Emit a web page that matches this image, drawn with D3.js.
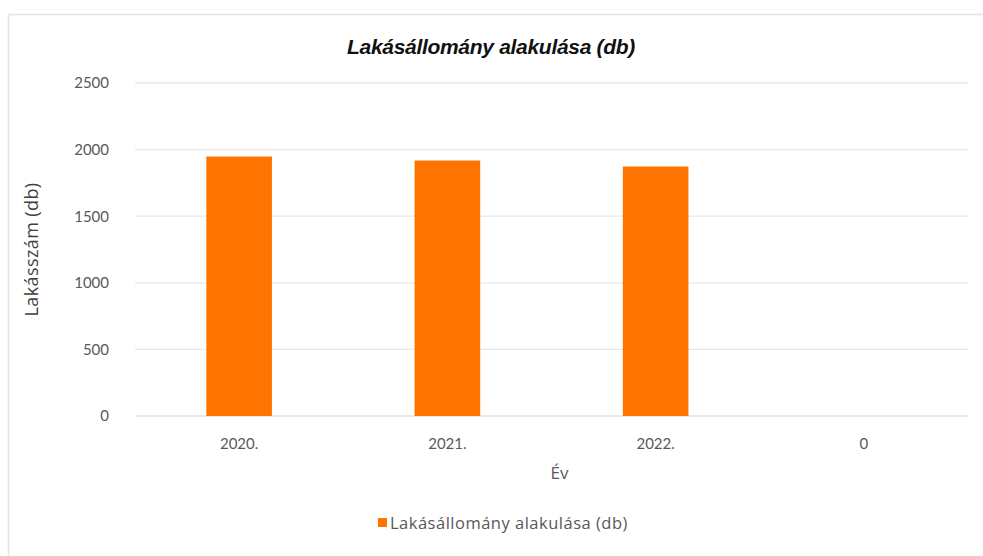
<!DOCTYPE html>
<html>
<head>
<meta charset="utf-8">
<script src="https://cdn.jsdelivr.net/npm/d3@7"></script>
<style>
  html, body { margin: 0; padding: 0; background: #ffffff; }
  svg { display: block; }
</style>
</head>
<body>
<svg id="chart" width="983" height="556"></svg>
<script>
const categories = ["2020.", "2021.", "2022.", "0"];
const values = [1948, 1918, 1873, 0];
const yTicks = [0, 500, 1000, 1500, 2000, 2500];
const title = "Lakásállomány alakulása (db)";
const seriesName = "Lakásállomány alakulása (db)";
const xTitle = "Év";
const yTitle = "Lakásszám (db)";

const W = 983, H = 556;
const margin = { top: 83, right: 15, bottom: 140, left: 135 };
const plotW = W - margin.left - margin.right;
const plotH = H - margin.top - margin.bottom;
const font = "Lato, 'Open Sans', sans-serif";
const font2 = "'Open Sans', Lato, sans-serif";
const gray = "#595959";
const barColor = "#FF7300";

const svg = d3.select("#chart");

// outer chart frame
svg.append("rect")
  .attr("x", 8.5).attr("y", 14.5)
  .attr("width", W + 10).attr("height", H + 10)
  .attr("fill", "#fff").attr("stroke", "#e3e3e3").attr("stroke-width", 1.5);

const x = d3.scaleBand()
  .domain(categories)
  .range([0, plotW])
  .paddingInner(0.685)
  .paddingOuter(0.3425);

const y = d3.scaleLinear().domain([0, 2500]).range([plotH, 0]);

const g = svg.append("g").attr("transform", `translate(${margin.left},${margin.top})`);

// gridlines
g.append("g")
  .selectAll("line")
  .data(yTicks)
  .join("line")
  .attr("x1", 0).attr("x2", plotW)
  .attr("y1", d => y(d)).attr("y2", d => y(d))
  .attr("stroke", d => d === 0 ? "#e6e3d6" : "#e8e8e8")
  .attr("stroke-width", 1.3);

// y axis labels
const yAxis = g.append("g").call(
  d3.axisLeft(y).tickValues(yTicks).tickFormat(d3.format("d")).tickSize(0).tickPadding(26)
);
yAxis.select(".domain").remove();
yAxis.selectAll("text")
  .attr("fill", gray).attr("font-family", font).attr("font-size", 15);

// bars
g.append("g")
  .selectAll("rect")
  .data(categories.map((c, i) => ({ c, v: values[i] })))
  .join("rect")
  .attr("x", d => x(d.c))
  .attr("y", d => y(d.v))
  .attr("width", x.bandwidth())
  .attr("height", d => plotH - y(d.v))
  .attr("fill", barColor);

// x axis labels
const xAxis = g.append("g")
  .attr("transform", `translate(0,${plotH})`)
  .call(d3.axisBottom(x).tickSize(0).tickPadding(22));
xAxis.select(".domain").remove();
xAxis.selectAll("text")
  .attr("fill", gray).attr("font-family", font).attr("font-size", 15);

// title
svg.append("text")
  .attr("x", 491)
  .attr("y", 54)
  .attr("text-anchor", "middle")
  .attr("font-family", "'Liberation Sans', Arial, sans-serif")
  .attr("font-weight", "bold")
  .attr("font-style", "italic")
  .attr("font-size", 21)
  .attr("letter-spacing", -0.3)
  .attr("fill", "#111")
  .text(title);

// x title
svg.append("text")
  .attr("x", margin.left + plotW / 2 + 8)
  .attr("y", margin.top + plotH + 63)
  .attr("text-anchor", "middle")
  .attr("font-family", font2).attr("font-size", 17)
  .attr("fill", gray)
  .text(xTitle);

// y title
svg.append("text")
  .attr("transform", `translate(38,${margin.top + plotH / 2}) rotate(-90)`)
  .attr("text-anchor", "middle")
  .attr("font-family", font2).attr("font-size", 18)
  .attr("letter-spacing", 0.4)
  .attr("fill", "#404040")
  .text(yTitle);

// legend
const legend = svg.append("g").attr("transform", `translate(378,${H - 33})`);
legend.append("rect")
  .attr("x", 0).attr("y", -5).attr("width", 9).attr("height", 9)
  .attr("fill", barColor);
legend.append("text")
  .attr("x", 12).attr("y", 0).attr("dy", "0.35em")
  .attr("font-family", font2).attr("font-size", 16.5)
  .attr("letter-spacing", 0.5)
  .attr("fill", gray)
  .text(seriesName);
</script>
</body>
</html>
